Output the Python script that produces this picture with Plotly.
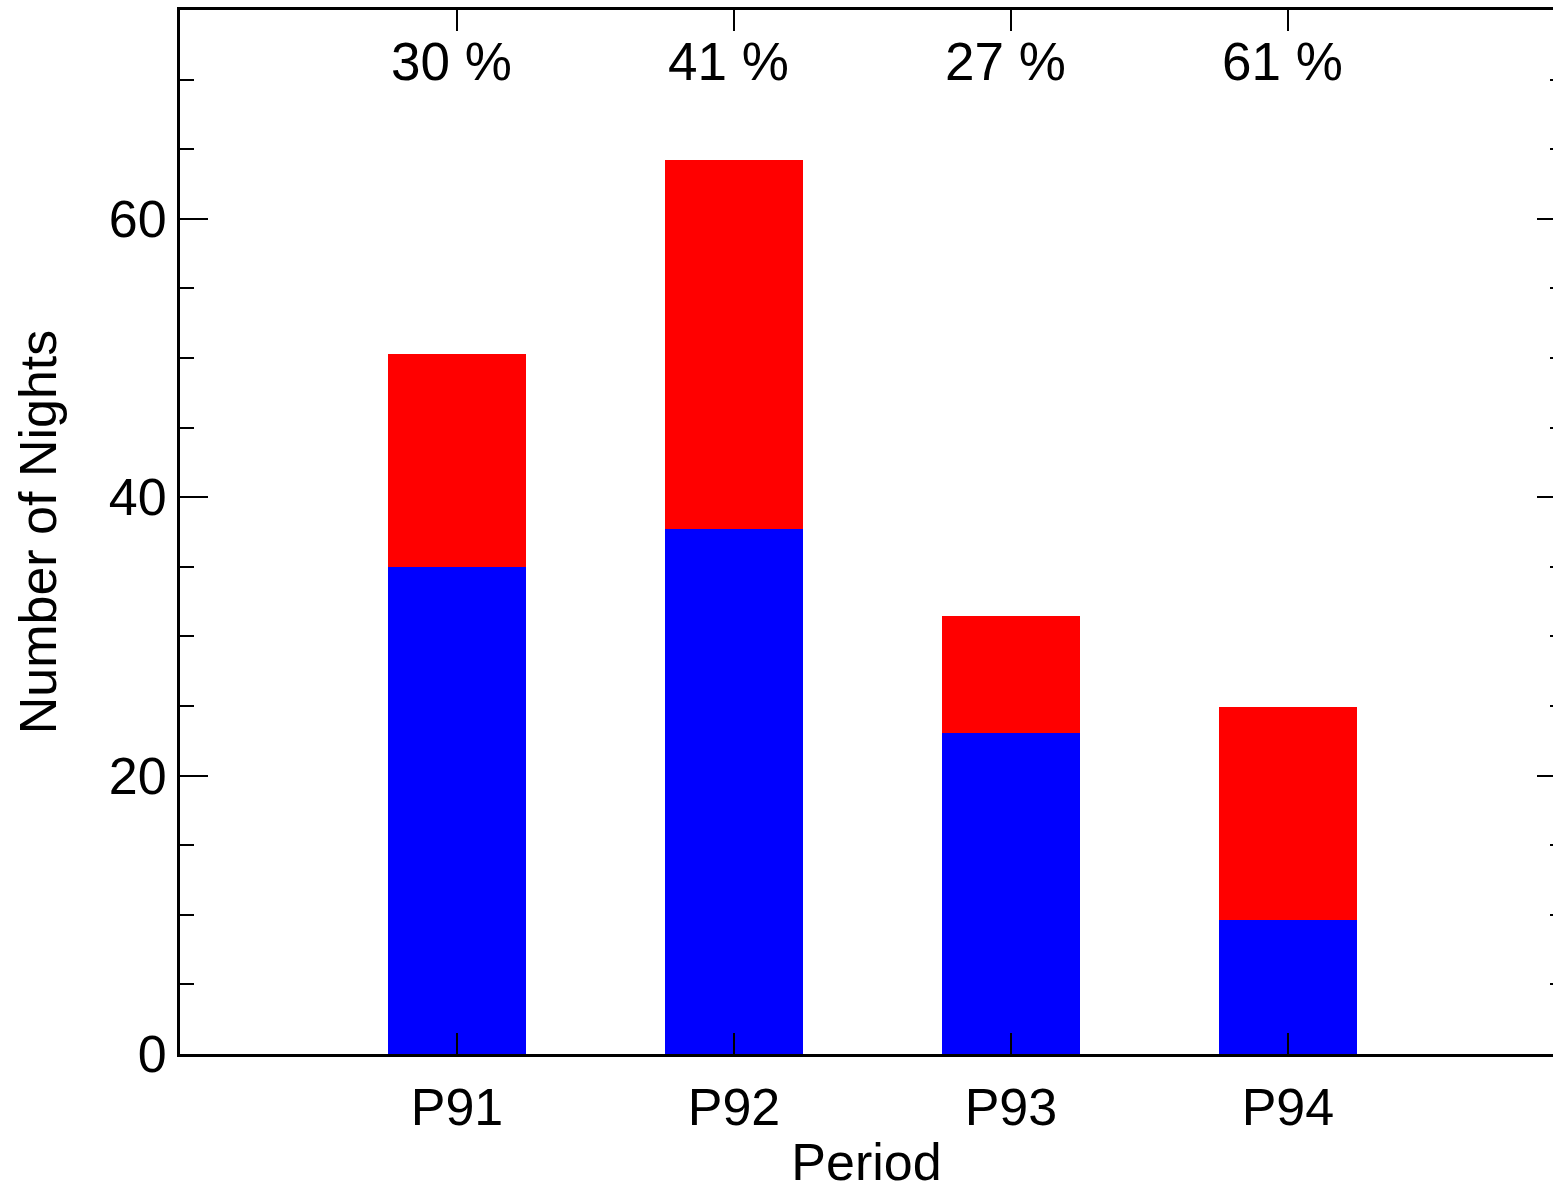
import plotly.graph_objects as go

# Observing periods and nights per period
periods = ["P91", "P92", "P93", "P94"]
blue_nights = [35.0, 37.7, 23.06, 9.63]     # lower (blue) segment
total_nights = [50.3, 64.2, 31.44, 24.9]    # top of the stacked bar
red_nights = [t - b for t, b in zip(total_nights, blue_nights)]

# Fraction of each bar in the red segment, shown along the top axis
pct_labels = [f"{round(100 * r / t)} %" for r, t in zip(red_nights, total_nights)]

y_ticks = [0, 20, 40, 60]

FONT = "Liberation Sans, Arial, Helvetica, sans-serif"
BLACK = "#000000"

fig = go.Figure()
fig.add_trace(go.Bar(x=periods, y=blue_nights, width=0.5,
                     marker=dict(color="#0000ff", line=dict(width=0)),
                     showlegend=False))
fig.add_trace(go.Bar(x=periods, y=red_nights, width=0.5,
                     marker=dict(color="#ff0000", line=dict(width=0)),
                     showlegend=False))

for p, lab in zip(periods, pct_labels):
    fig.add_annotation(x=p, y=1, xref="x", yref="paper", text=lab,
                       showarrow=False, yanchor="middle", yshift=-51,
                       xshift=-5, font=dict(family=FONT, size=53, color=BLACK))

fig.update_layout(
    width=1553, height=1191,
    margin=dict(l=180, r=0, t=10, b=137),
    barmode="stack",
    plot_bgcolor="white", paper_bgcolor="white",
    font=dict(family=FONT, size=52, color=BLACK),
    xaxis=dict(
        type="category", range=[-1, 3.957],
        showline=True, linecolor=BLACK, linewidth=3, mirror="ticks",
        ticks="inside", ticklen=21, tickwidth=2, tickcolor=BLACK,
        showgrid=False, zeroline=False, ticklabelstandoff=6,
        tickfont=dict(family=FONT, size=52, color=BLACK),
        title=dict(text="Period", font=dict(family=FONT, size=52, color=BLACK),
                   standoff=12),
    ),
    yaxis=dict(
        range=[0, 75], tickvals=y_ticks,
        showline=True, linecolor=BLACK, linewidth=3,
        ticks="inside", ticklen=28, tickwidth=2, tickcolor=BLACK,
        minor=dict(dtick=5, ticks="inside", ticklen=14, tickwidth=2,
                   tickcolor=BLACK),
        showgrid=False, zeroline=False,
        tickfont=dict(family=FONT, size=52, color=BLACK),
        title=dict(text="Number of Nights",
                   font=dict(family=FONT, size=52, color=BLACK), standoff=36),
    ),
    yaxis2=dict(
        overlaying="y", side="right", range=[0, 75], tickvals=y_ticks,
        showline=False, showticklabels=False,
        ticks="inside", ticklen=16, tickwidth=2, tickcolor=BLACK,
        minor=dict(dtick=5, ticks="inside", ticklen=3, tickwidth=2,
                   tickcolor=BLACK),
        showgrid=False, zeroline=False,
    ),
)

# Invisible trace so the right-hand tick axis is drawn
fig.add_trace(go.Scatter(x=periods, y=total_nights, yaxis="y2", mode="none",
                         showlegend=False, hoverinfo="skip"))

fig.write_html("out.html")
